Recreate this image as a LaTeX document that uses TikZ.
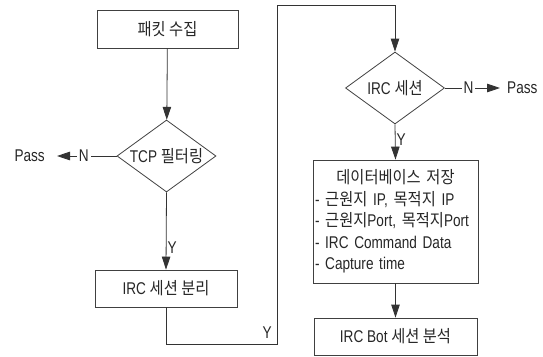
\documentclass[tikz,border=0pt]{standalone}
\usepackage{fontspec}
\setmainfont[FakeStretch=0.80]{Liberation Sans}
\newfontfamily\kr[FakeStretch=0.90]{Noto Sans CJK KR}
\usepackage{tikz}
\usetikzlibrary{arrows.meta,shapes.geometric}
\tikzset{
  every picture/.style={draw=black, text=black},
}

\begin{document}
\begin{tikzpicture}[x=1pt, y=-1pt,
  every node/.style={font=\fontsize{17}{21.5}\selectfont, text=black!85},
  process/.style={draw=black!75, line width=0.8pt, rectangle, inner sep=0pt},
  decision/.style={draw=black!75, line width=0.8pt, diamond, inner sep=0pt,
    minimum width=99pt, minimum height=72pt},
  flow/.style={draw=black!80, line width=0.8pt,
    -{Triangle[length=13pt,width=8.5pt]}},
  tag/.style={fill=white, inner sep=2pt}]
\useasboundingbox (0,0) rectangle (543,356);
% Left column
\node[process, minimum width=141pt, minimum height=38pt] (collect) at (167.5,29) {{\kr 패킷 수집}};
\node[decision, label=center:{TCP {\kr 필터링}}] (tcp) at (166.5,156) {};
\node[process, minimum width=142pt, minimum height=37pt] (split) at (166,288.5) {IRC {\kr 세션 분리}};
\node[anchor=east, inner sep=0pt] (passL) at (45,156) {Pass};
% Right column
\node[decision, label=center:{IRC {\kr 세션}}] (irc) at (395,88) {};
\node[anchor=west, inner sep=0pt] (passR) at (507,88) {Pass};
\node[process, minimum width=165pt, minimum height=123pt, text width=161pt,
  align=left, inner xsep=2pt] (dbsave) at (395.5,221.5)
  {\makebox[161pt]{\kr 데이터베이스 저장}\\
   - {\kr 근원지} IP, {\kr 목적지} IP\\
   - {\kr 근원지}Port, {\kr 목적지}Port\\
   - IRC Command Data\\
   - Capture time};
\node[process, minimum width=163pt, minimum height=37pt] (bot) at (395.5,336.5) {IRC Bot {\kr 세션 분석}};
% Turning points of the long connector
\coordinate (turnB) at (277,344);
\coordinate (turnT) at (277,5);
% Connectors
\draw[flow] (collect) -- (tcp);
\draw[flow, shorten >=12pt] (tcp.west) -- node[tag, pos=0.46] {N} (passL.east);
\draw[flow] (tcp.south) -- node[pos=0.72, right, inner sep=1pt] {Y} (split.north);
\draw[flow] (split.south) |- (turnB) node[above left, inner sep=5pt] {Y}
  -- (turnT) -| (irc.north);
\draw[flow, shorten >=7pt] (irc.east) -- node[tag, pos=0.38] {N} (passR.west);
\draw[flow] (irc.south) -- node[pos=0.44, right, inner sep=1pt] {Y} (dbsave.north);
\draw[flow] (dbsave.south) -- (bot.north);
\end{tikzpicture}
\end{document}
